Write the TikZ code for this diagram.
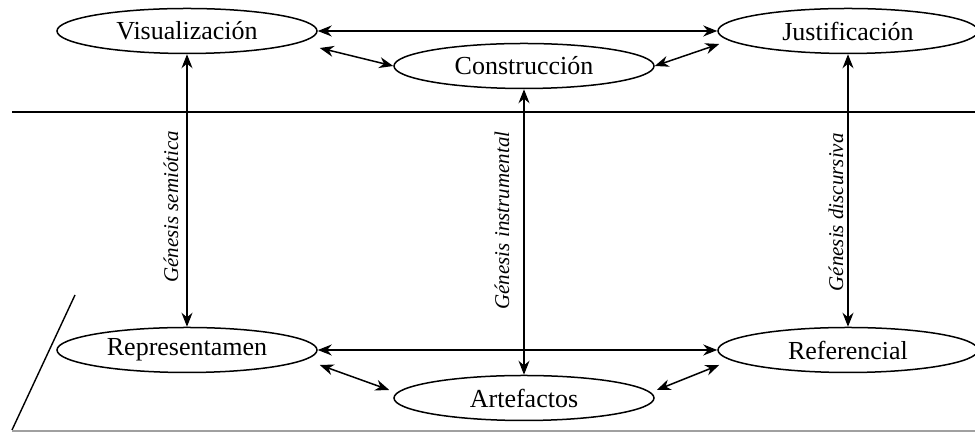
\documentclass[tikz,border=0pt]{standalone}
\usepackage{fontspec}
\setmainfont{Liberation Serif}
\usepackage{tikz}
\usetikzlibrary{arrows.meta, shapes.geometric}
\definecolor{rulegray}{RGB}{160, 160, 160}

\begin{document}
\begin{tikzpicture}[x=0.5pt, y=0.5pt, >={Stealth[length=7pt, width=5.5pt]},
    polo/.style={draw, ellipse, line width=0.75pt, minimum width=130pt, minimum height=22.5pt, inner sep=0pt, font=\fontsize{13}{15}\selectfont},
    genesis/.style={rotate=90, anchor=south, inner sep=4pt, font=\fontsize{10.5}{12}\selectfont\itshape},
    flecha/.style={<->, line width=0.75pt}]
    \useasboundingbox (0,0) rectangle (975,432);
    % planos
    \draw[line width=0.7pt] (12,320) -- (975,320);
    \draw[line width=0.7pt] (75,137) -- (12,2);
    \draw[rulegray, line width=0.7pt] (12,1) -- (975,1);
    % polos superiores
    \node[polo] (vis) at (187,401) {Visualización};
    \node[polo] (just) at (848,401) {Justificación};
    \node[polo] (cons) at (524,366) {Construcción};
    % polos inferiores
    \node[polo] (rep) at (187,82) {Representamen};
    \node[polo] (refe) at (848,82) {Referencial};
    \node[polo] (arte) at (524,34) {Artefactos};
    % relaciones
    \draw[flecha] (vis.east) -- (just.west);
    \draw[flecha] ([xshift=1pt, yshift=-8.5pt]vis.east) -- (cons.west);
    \draw[flecha] (cons.east) -- ([xshift=1pt, yshift=-6.5pt]just.west);
    \draw[flecha] (rep.east) -- (refe.west);
    \draw[flecha] ([xshift=1pt, yshift=-7.5pt]rep.east) -- ([xshift=-2pt, yshift=4pt]arte.west);
    \draw[flecha] ([xshift=1pt, yshift=4pt]arte.east) -- ([xshift=1pt, yshift=-7.5pt]refe.west);
    % génesis
    \draw[flecha] (vis.south) -- node[genesis, pos=0.56] {Génesis semiótica} (rep.north);
    \draw[flecha] (cons.south) -- node[genesis, pos=0.46, inner sep=7pt] {Génesis instrumental} (arte.north);
    \draw[flecha] (just.south) -- node[genesis, pos=0.58, inner sep=2pt] {Génesis discursiva} (refe.north);
\end{tikzpicture}
\end{document}
